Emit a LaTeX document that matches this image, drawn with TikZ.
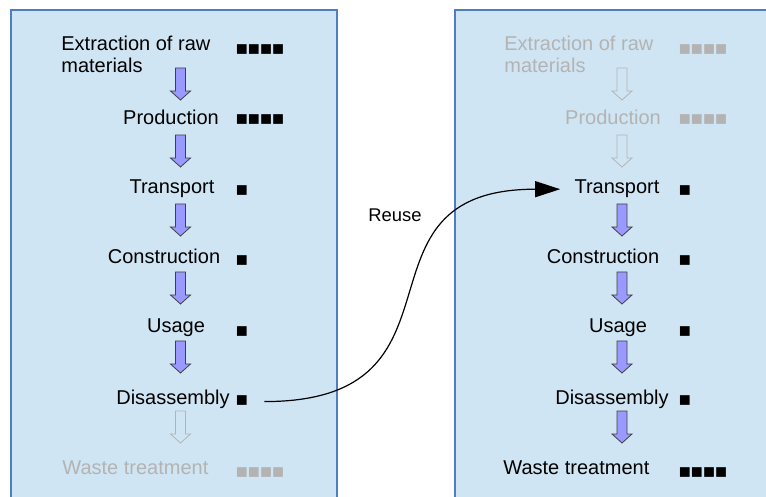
\documentclass[tikz,border=0pt]{standalone}
\usepackage{fontspec}
\setmainfont{Liberation Sans}
\usetikzlibrary{arrows.meta}
\definecolor{panelfill}{HTML}{CFE5F3}
\definecolor{paneldraw}{HTML}{4F7EC0}
\definecolor{arrowfill}{HTML}{9999FF}
\definecolor{faint}{HTML}{B3B3B3}
\newcommand*{\shift}{443}
\newcommand*{\four}{■■■■}
\newcommand*{\one}{■}
\tikzset{
	panel/.style={
		fill=panelfill,
		draw=paneldraw,
		line width=0.8pt
	},
	stage/.style={
		inner sep=0pt,
		anchor=base,
		font=\fontsize{10}{11}\selectfont
	},
	score/.style={
		inner sep=0pt,
		anchor=base west,
		font=\fontsize{10}{11}\selectfont
	},
	faded/.style={text=faint},
	arron/.style={fill=arrowfill, draw=black!75, line width=0.4pt},
	arroff/.style={fill=none, draw=faint, line width=0.4pt},
	darrow/.pic={
		\path[pic actions] (-5,0) -- (5,0) -- (5,23) -- (10,23) -- (0,32) -- (-10,23) -- (-5,23) -- cycle;
	},
	reuse/.style={
		-{Triangle[length=12.5pt,width=8pt]},
		line width=0.6pt
	}
}
\begin{document}
\begin{tikzpicture}[x=0.5pt,y=-0.5pt]
	\useasboundingbox (0,0) rectangle (766,497);
	\clip (0,0) rectangle (766,497);
	\path[panel] (11,10) rectangle (337,520);
	\path[panel] (\shift+12,10) rectangle (\shift+340,520);
	% first life
	\node (ext1) [stage, anchor=base west, align=left] at (61,73) {Extraction of raw\\materials};
	\node (prod1) [stage] at (171,125) {Production};
	\node (trans1) [stage] at (172,194) {Transport};
	\node (cons1) [stage] at (164,264) {Construction};
	\node (use1) [stage] at (176,333) {Usage};
	\node (dis1) [stage] at (173,404) {Disassembly};
	\node (waste1) [stage, faded, anchor=base west] at (62,474) {Waste treatment};
	\node (ext1m) [score] at (235.5,55.5) {\four};
	\node (prod1m) [score] at (235.5,125.5) {\four};
	\node (trans1m) [score] at (235.5,196.5) {\one};
	\node (cons1m) [score] at (235.5,266.5) {\one};
	\node (use1m) [score] at (235.5,337) {\one};
	\node (dis1m) [score] at (235.5,407) {\one};
	\node (waste1m) [score, faded] at (235.5,478.5) {\four};
	\foreach \y/\s in {68/arron,135/arron,204/arron,272/arron,341/arron,411/arroff}
		\pic[\s] at (180.5,\y) {darrow};
	% second life
	\node (ext2) [stage, faded, anchor=base west, align=left] at (\shift+61,73) {Extraction of raw\\materials};
	\node (prod2) [stage, faded] at (\shift+170,125) {Production};
	\node (trans2) [stage] at (\shift+174,194) {Transport};
	\node (cons2) [stage] at (\shift+160,264) {Construction};
	\node (use2) [stage] at (\shift+175,333) {Usage};
	\node (dis2) [stage] at (\shift+169,404) {Disassembly};
	\node (waste2) [stage, anchor=base west] at (\shift+60,474) {Waste treatment};
	\node (ext2m) [score, faded] at (\shift+235.5,55.5) {\four};
	\node (prod2m) [score, faded] at (\shift+235.5,125.5) {\four};
	\node (trans2m) [score] at (\shift+235.5,196.5) {\one};
	\node (cons2m) [score] at (\shift+235.5,266.5) {\one};
	\node (use2m) [score] at (\shift+235.5,337) {\one};
	\node (dis2m) [score] at (\shift+235.5,407) {\one};
	\node (waste2m) [score] at (\shift+235.5,478.5) {\four};
	\foreach \y/\s in {68/arroff,135/arroff,204/arron,272/arron,341/arron,411/arron}
		\pic[\s] at (\shift+179,\y) {darrow};
	% reuse
	\node (reuselbl) [stage, font=\fontsize{9.2}{11}\selectfont] at (395,222) {Reuse};
	\draw[reuse] ([xshift=8pt]dis1m.east) .. controls +(218,0) and +(-220,0) .. ([xshift=-7pt]trans2.west);
\end{tikzpicture}
\end{document}
